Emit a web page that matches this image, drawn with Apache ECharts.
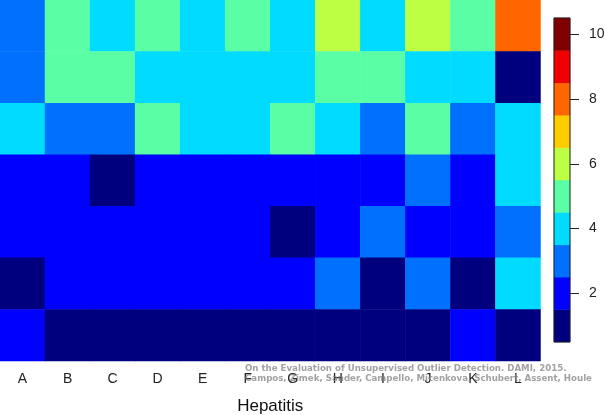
<!DOCTYPE html>
<html>
<head>
<meta charset="utf-8">
<style>html,body{margin:0;padding:0;background:#fff}#chart{width:605px;height:415px}</style>
<script src="https://cdn.jsdelivr.net/npm/echarts@6/dist/echarts.min.js"></script>
</head>
<body>
<div id="chart"></div>
<script>
var methods = ['A','B','C','D','E','F','G','H','I','J','K','L'];
var rowNames = ['r1','r2','r3','r4','r5','r6','r7'];
// one row per line, top to bottom, value = rank bin
var row1 = [3,5,4,5,4,5,4,6,4,6,5,8];
var row2 = [3,5,5,4,4,4,4,5,5,4,4,1];
var row3 = [4,3,3,5,4,4,5,4,3,5,3,4];
var row4 = [2,2,1,2,2,2,2,2,2,3,2,4];
var row5 = [2,2,2,2,2,2,1,2,3,2,2,3];
var row6 = [1,2,2,2,2,2,2,3,1,3,1,4];
var row7 = [2,1,1,1,1,1,1,1,1,1,2,1];
var rows = [row1,row2,row3,row4,row5,row6,row7];
var levels = [1,2,3,4,5,6,7,8,9,10];
var levelColors = ['#00007f','#0000ff','#0070ff','#00dbff','#5affa5','#bdff42','#ffcc00','#ff6600','#f00000','#7f0000'];
var creditLines = ['On the Evaluation of Unsupervised Outlier Detection. DAMI, 2015.',
                   'Campos, Zimek, Sander, Campello, Micenkova, Schubert, Assent, Houle'];

var cells = [];
rows.forEach(function(r, y){
    r.forEach(function(v, x){ cells.push([x, y, v]); });
});
var barCells = levels.map(function(v, i){ return [0, i, v]; });
var pieces = levels.map(function(v, i){ return {value: v, color: levelColors[i]}; });

var chart = echarts.init(document.getElementById('chart'));
chart.setOption({
    animation: false,
    backgroundColor: '#fff',
    grid: [
        {left: 0, top: 0, width: 540.5, height: 361, outerBoundsMode: 'none'},
        {left: 554, top: 18, width: 16, height: 324, outerBoundsMode: 'none', show: true, borderColor: '#222', borderWidth: 1, backgroundColor: 'transparent', z: 5}
    ],
    xAxis: [
        {type: 'category', gridIndex: 0, data: methods, position: 'bottom',
         axisLine: {show: false}, axisTick: {show: false}, splitLine: {show: false},
         axisLabel: {color: '#222', fontFamily: 'Liberation Sans', fontSize: 14, margin: 11},
         name: 'Hepatitis', nameLocation: 'middle', nameGap: 37,
         nameTextStyle: {color: '#111', fontFamily: 'Liberation Sans', fontSize: 17}},
        {type: 'category', gridIndex: 1, data: ['c'], show: false}
    ],
    yAxis: [
        {type: 'category', gridIndex: 0, data: rowNames, inverse: true, show: false},
        {type: 'category', gridIndex: 1, data: levels, position: 'right',
         axisLine: {show: false},
         axisTick: {show: true, alignWithLabel: true, length: 9, lineStyle: {color: '#222'},
                    interval: function(i, v){ return v % 2 === 0; }},
         axisLabel: {color: '#222', fontFamily: 'Liberation Sans', fontSize: 14, margin: 19,
                     interval: function(i, v){ return v % 2 === 0; }},
         splitLine: {show: false}}
    ],
    visualMap: {type: 'piecewise', show: false, dimension: 2, seriesIndex: [0, 1], pieces: pieces},
    series: [
        {type: 'heatmap', xAxisIndex: 0, yAxisIndex: 0, data: cells, itemStyle: {borderWidth: 0}},
        {type: 'heatmap', xAxisIndex: 1, yAxisIndex: 1, data: barCells, itemStyle: {borderWidth: 0}}
    ],
    graphic: creditLines.map(function(t, i){
        return {type: 'text', left: 245, top: 364.5 + i * 10, z: 50,
                style: {text: t, fill: 'rgba(130,130,130,0.75)', font: 'bold 8.65px "DejaVu Sans"'}};
    })
});
</script>
</body>
</html>
